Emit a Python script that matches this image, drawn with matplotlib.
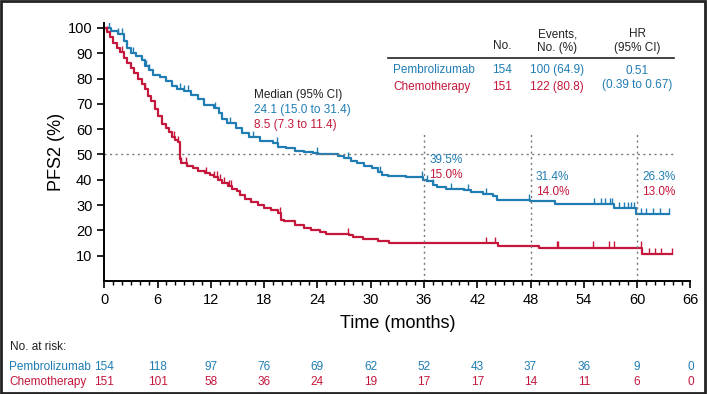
import numpy as np
import matplotlib.pyplot as plt
from matplotlib.patches import Rectangle
from matplotlib.transforms import blended_transform_factory

plt.rcParams['font.family'] = ['Liberation Sans', 'DejaVu Sans']

BLUE = '#1f7db4'
RED = '#c4173b'

# Kaplan-Meier step points (months, PFS2 %)
pem_t = [0, 0.8, 1.5, 2.2, 2.6, 3.0, 3.6, 4.2, 4.6, 5.0, 5.5, 6.3, 7.0, 7.6, 8.2, 9.0,
         9.8, 10.6, 11.2, 12.3, 12.9, 13.3, 13.8, 14.8, 15.5, 16.3, 17.5, 19.0, 19.6,
         20.5, 21.5, 22.5, 23.5, 24.1, 26.3, 27.0, 27.8, 28.5, 29.3, 30.2, 30.8, 31.3,
         32.0, 34.0, 35.9, 36.3, 37.0, 37.5, 38.5, 40.5, 41.3, 42.6, 43.8, 44.2, 47.9,
         50.7, 57.4, 59.9, 63.6]
pem_s = [100, 98.7, 97.4, 95, 92, 90, 89, 87.5, 85, 83.5, 81.5, 80.5, 79, 77, 76, 75,
         73.5, 72, 69.5, 68.5, 66.5, 64, 62.5, 60.5, 58.5, 57, 55.5, 54.5, 53,
         52.5, 51.5, 51, 50.5, 50, 49.5, 48.7, 47.5, 46.5, 45.5, 44.5, 43, 42,
         41.5, 41, 40, 39.5, 38, 37, 36.5, 36, 35, 34.5, 33.5, 32, 31.4,
         30.5, 29, 26.3, 26.3]
pem_cens = [0.5, 1.5, 2.0, 3.2, 4.7, 5.0, 8.5, 9.0, 9.4, 12.5, 14.2, 16.8, 19.5, 24.0,
            27.5, 31.0, 35.8, 36.3, 37.0, 39.0, 41.0, 43.0, 47.8, 55.2, 55.9, 56.4,
            56.9, 57.2, 58.0, 58.5, 59.0, 59.3, 59.7, 60.4, 61.0, 61.8, 62.6, 63.6]

chemo_t = [0, 0.3, 0.7, 1.0, 1.4, 1.8, 2.2, 2.6, 3.0, 3.4, 3.8, 4.2, 4.6, 4.9, 5.3, 5.7,
           6.1, 6.5, 6.9, 7.3, 7.6, 8.0, 8.3, 8.5, 8.6, 9.3, 10.0, 10.6, 11.3, 11.9,
           12.4, 12.8, 13.3, 13.9, 14.4, 14.9, 15.3, 15.9, 16.5, 17.3, 18.0, 18.8, 19.6,
           19.9, 20.2, 21.5, 22.5, 23.3, 24.3, 25.0, 27.6, 28.0, 29.1, 30.8, 32.1, 44.3,
           49.0, 60.6, 63.9]
chemo_s = [100, 98.5, 96.5, 94, 92, 90.5, 88, 86, 84, 82, 80, 78, 76, 73, 71, 68,
           65, 62, 60.5, 59, 57, 55.7, 55, 48, 46.5, 45.5, 44.5, 43.5, 42.5, 41.8,
           41, 40, 38.7, 37.5, 36.5, 35.5, 34, 32.5, 31, 30, 29, 28, 27,
           24, 23.5, 22, 21, 20, 19.2, 18.5, 18, 17.5, 16.6, 15.6, 15, 14,
           13.2, 10.5, 10.5]
chemo_cens = [0.3, 2.0, 4.6, 7.8, 8.3, 8.6, 9.2, 11.5, 12.4, 12.7, 13.0, 13.5, 14.0,
              14.3, 19.8, 27.5, 43.0, 44.0, 51.0, 51.1, 55.0, 56.8, 57.4, 60.4, 61.3,
              62.0, 62.7, 63.9]

risk_times = np.arange(0, 67, 6)
pem_risk = [154, 118, 97, 76, 69, 62, 52, 43, 37, 36, 9, 0]
chemo_risk = [151, 101, 58, 36, 24, 19, 17, 17, 14, 11, 6, 0]

landmarks = [36, 48, 60]
pem_land = ['39.5%', '31.4%', '26.3%']
chemo_land = ['15.0%', '14.0%', '13.0%']


def step_value(t, times, surv):
    idx = np.searchsorted(times, t, side='right') - 1
    return np.array(surv)[idx]


fig = plt.figure(figsize=(7.07, 3.94), dpi=100)
ax = fig.add_axes([0.1475, 0.287, 0.829, 0.655])

ax.step(pem_t, pem_s, where='post', color=BLUE, lw=1.6)
ax.step(chemo_t, chemo_s, where='post', color=RED, lw=1.6)
ax.plot(pem_cens, step_value(pem_cens, pem_t, pem_s) + 1.2, ls='none', marker='|',
        ms=5, mew=1, color=BLUE)
ax.plot(chemo_cens, step_value(chemo_cens, chemo_t, chemo_s) + 1.2, ls='none',
        marker='|', ms=5, mew=1, color=RED)

# reference lines
ax.plot([0, 64.2], [50, 50], ls=(0, (1.5, 2.5)), color='#777777', lw=1)
for lm in landmarks:
    ax.plot([lm, lm], [0, 58], ls=(0, (1.5, 2.5)), color='#777777', lw=1)

ax.set_xlim(0, 66)
ax.set_ylim(0, 102)
ax.set_xticks(risk_times)
ax.set_xticks(np.arange(0, 67, 1), minor=True)
ax.set_yticks(np.arange(10, 101, 10))
ax.tick_params(axis='both', labelsize=10.5, length=5, width=1.2, direction='out')
ax.tick_params(axis='x', which='minor', length=3, width=1)
ax.spines['top'].set_visible(False)
ax.spines['right'].set_visible(False)
ax.spines['left'].set_linewidth(1.4)
ax.spines['bottom'].set_linewidth(1.4)
ax.set_xlabel('Time (months)', fontsize=13, labelpad=6)
ax.set_ylabel('PFS2 (%)', fontsize=13, labelpad=2)

# median annotation
ax.text(16.85, 73.5, 'Median (95% CI)', fontsize=8.5, color='#222222', va='center')
ax.text(16.85, 67.6, '24.1 (15.0 to 31.4)', fontsize=8.5, color=BLUE, va='center')
ax.text(16.85, 61.7, '8.5 (7.3 to 11.4)', fontsize=8.5, color=RED, va='center')

# landmark annotations
land_y = [(47.8, 41.9), (41.1, 35.2), (41.1, 35.2)]
for lm, p, c, (yp, yc) in zip(landmarks, pem_land, chemo_land, land_y):
    ax.text(lm + 0.6, yp, p, fontsize=8.5, color=BLUE, va='center')
    ax.text(lm + 0.6, yc, c, fontsize=8.5, color=RED, va='center')

# summary table
ax.text(44.8, 92.9, 'No.', fontsize=8.5, ha='center', va='center', color='#222222')
ax.text(51.0, 94.7, 'Events,\nNo. (%)', fontsize=8.5, ha='center', va='center',
        color='#222222', linespacing=1.2)
ax.text(60.0, 94.7, 'HR\n(95% CI)', fontsize=8.5, ha='center', va='center',
        color='#222222', linespacing=1.2)
ax.plot([31.9, 64.2], [88.1, 88.1], color='#222222', lw=1.2, clip_on=False)
ax.text(32.5, 83.4, 'Pembrolizumab', fontsize=8.5, color=BLUE, va='center')
ax.text(32.5, 76.7, 'Chemotherapy', fontsize=8.5, color=RED, va='center')
ax.text(44.8, 83.4, '154', fontsize=8.5, color=BLUE, ha='center', va='center')
ax.text(44.8, 76.7, '151', fontsize=8.5, color=RED, ha='center', va='center')
ax.text(51.0, 83.4, '100 (64.9)', fontsize=8.5, color=BLUE, ha='center', va='center')
ax.text(51.0, 76.7, '122 (80.8)', fontsize=8.5, color=RED, ha='center', va='center')
ax.text(60.0, 83.0, '0.51', fontsize=8.5, color=BLUE, ha='center', va='center')
ax.text(60.0, 77.5, '(0.39 to 0.67)', fontsize=8.5, color=BLUE, ha='center', va='center')

# number at risk
tr = blended_transform_factory(ax.transData, fig.transFigure)
fig.text(0.014, 0.119, 'No. at risk:', fontsize=8.5, va='center', color='#222222')
fig.text(0.013, 0.0685, 'Pembrolizumab', fontsize=8.5, va='center', color=BLUE)
fig.text(0.013, 0.030, 'Chemotherapy', fontsize=8.5, va='center', color=RED)
for t, p, c in zip(risk_times, pem_risk, chemo_risk):
    ax.text(t, 0.0685, str(p), transform=tr, fontsize=8.5, ha='center', va='center',
            color=BLUE)
    ax.text(t, 0.030, str(c), transform=tr, fontsize=8.5, ha='center', va='center',
            color=RED)

fig.patches.append(Rectangle((0.002, 0.003), 0.995, 0.994, transform=fig.transFigure,
                             fill=False, edgecolor='#222222', lw=2))

fig.savefig('out.png', dpi=100)
